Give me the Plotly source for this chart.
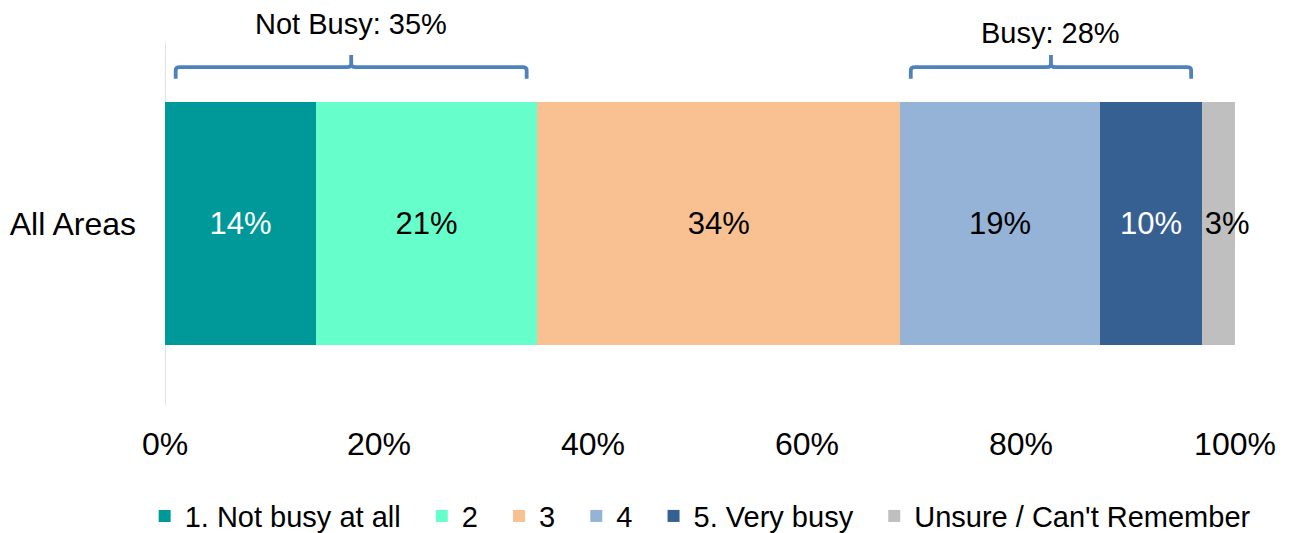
import plotly.graph_objects as go

categories = ["All Areas"]
series_names = ["1. Not busy at all", "2", "3", "4", "5. Very busy", "Unsure / Can't Remember"]
series_values = [14.1, 20.7, 33.9, 18.7, 9.5, 3.1]
value_labels = ["14%", "21%", "34%", "19%", "10%", "3%"]
colors = ["#009999", "#66FFCC", "#F9C191", "#95B3D7", "#366092", "#BFBFBF"]
text_colors = ["white", "black", "black", "black", "white", "black"]
x_ticks = [0, 20, 40, 60, 80, 100]
x_tick_labels = ["0%", "20%", "40%", "60%", "80%", "100%"]
groups = [("Not Busy: 35%", 0, 2), ("Busy: 28%", 3, 5)]

FONT = "Liberation Sans, Arial, sans-serif"
# the page body adds an 8px offset on left and top
OFF = 8
PAD = "\u00a0\u00a0"

fig = go.Figure()
n = len(series_names)
for i, (name, v, lab, c, tc) in enumerate(zip(series_names, series_values, value_labels, colors, text_colors)):
    fig.add_trace(go.Bar(
        y=categories, x=[v], name=name + (PAD if i < n - 1 else ""),
        orientation="h",
        marker=dict(color=c, line=dict(width=0)),
        text=[lab], textposition="inside",
        insidetextanchor="start" if i == n - 1 else "middle",
        textangle=0, constraintext="none", cliponaxis=False,
        textfont=dict(color=tc, size=31, family=FONT),
        hoverinfo="skip",
    ))

# brackets
cum = [0]
for v in series_values:
    cum.append(cum[-1] + v)
inset = 1.0
y_line, y_end, y_mid = 0.931, 0.899, 0.964
label_y = [1.05, 1.025]
for i, (label, a, b) in enumerate(groups):
    x0 = cum[a] + inset
    x1 = cum[b] - inset
    xm = (x0 + x1) / 2
    r = 0.4
    path = (f"M {x0},{y_end} L {x0},{y_line - 0.008} Q {x0},{y_line} {x0 + r},{y_line} "
            f"L {xm - r},{y_line} Q {xm},{y_line} {xm},{y_line + 0.008} L {xm},{y_mid} "
            f"M {xm},{y_line + 0.008} Q {xm},{y_line} {xm + r},{y_line} "
            f"L {x1 - r},{y_line} Q {x1},{y_line} {x1},{y_line - 0.008} L {x1},{y_end}")
    fig.add_shape(type="path", path=path, xref="x", yref="paper",
                  line=dict(color="#4F81BD", width=3.8), layer="above")
    fig.add_annotation(x=xm, y=label_y[i], xref="x", yref="paper", text=label,
                       showarrow=False, yanchor="middle",
                       font=dict(size=29, family=FONT, color="black"))

fig.update_layout(
    barmode="stack",
    bargap=0.33,
    width=1289 - OFF, height=533 - OFF,
    margin=dict(l=165 - OFF, r=54, t=42 - OFF, b=128, autoexpand=False),
    plot_bgcolor="white", paper_bgcolor="white",
    font=dict(family=FONT, size=29, color="black"),
    showlegend=True,
    legend=dict(orientation="h", x=-0.019, xanchor="left", y=-0.306, yanchor="middle",
                font=dict(size=29, family=FONT), traceorder="normal",
                bgcolor="rgba(0,0,0,0)",
                itemwidth=30, tracegroupgap=0),
    xaxis=dict(range=[0, 100], tickvals=x_ticks, ticktext=x_tick_labels,
               showgrid=False, zeroline=False, showline=False, ticks="",
               tickfont=dict(size=32, family=FONT), ticklabelstandoff=17,
               automargin=False, fixedrange=True),
    yaxis=dict(range=[-0.5, 0.5], showgrid=False, zeroline=False,
               showline=False, ticks="", tickfont=dict(size=32, family=FONT),
               ticklabelstandoff=28, automargin=False, fixedrange=True),
)
fig.add_shape(type="line", xref="x", yref="paper", x0=0, x1=0, y0=0, y1=1,
              line=dict(color="#D9D9D9", width=1.5), layer="below")

fig.write_html("out.html")
